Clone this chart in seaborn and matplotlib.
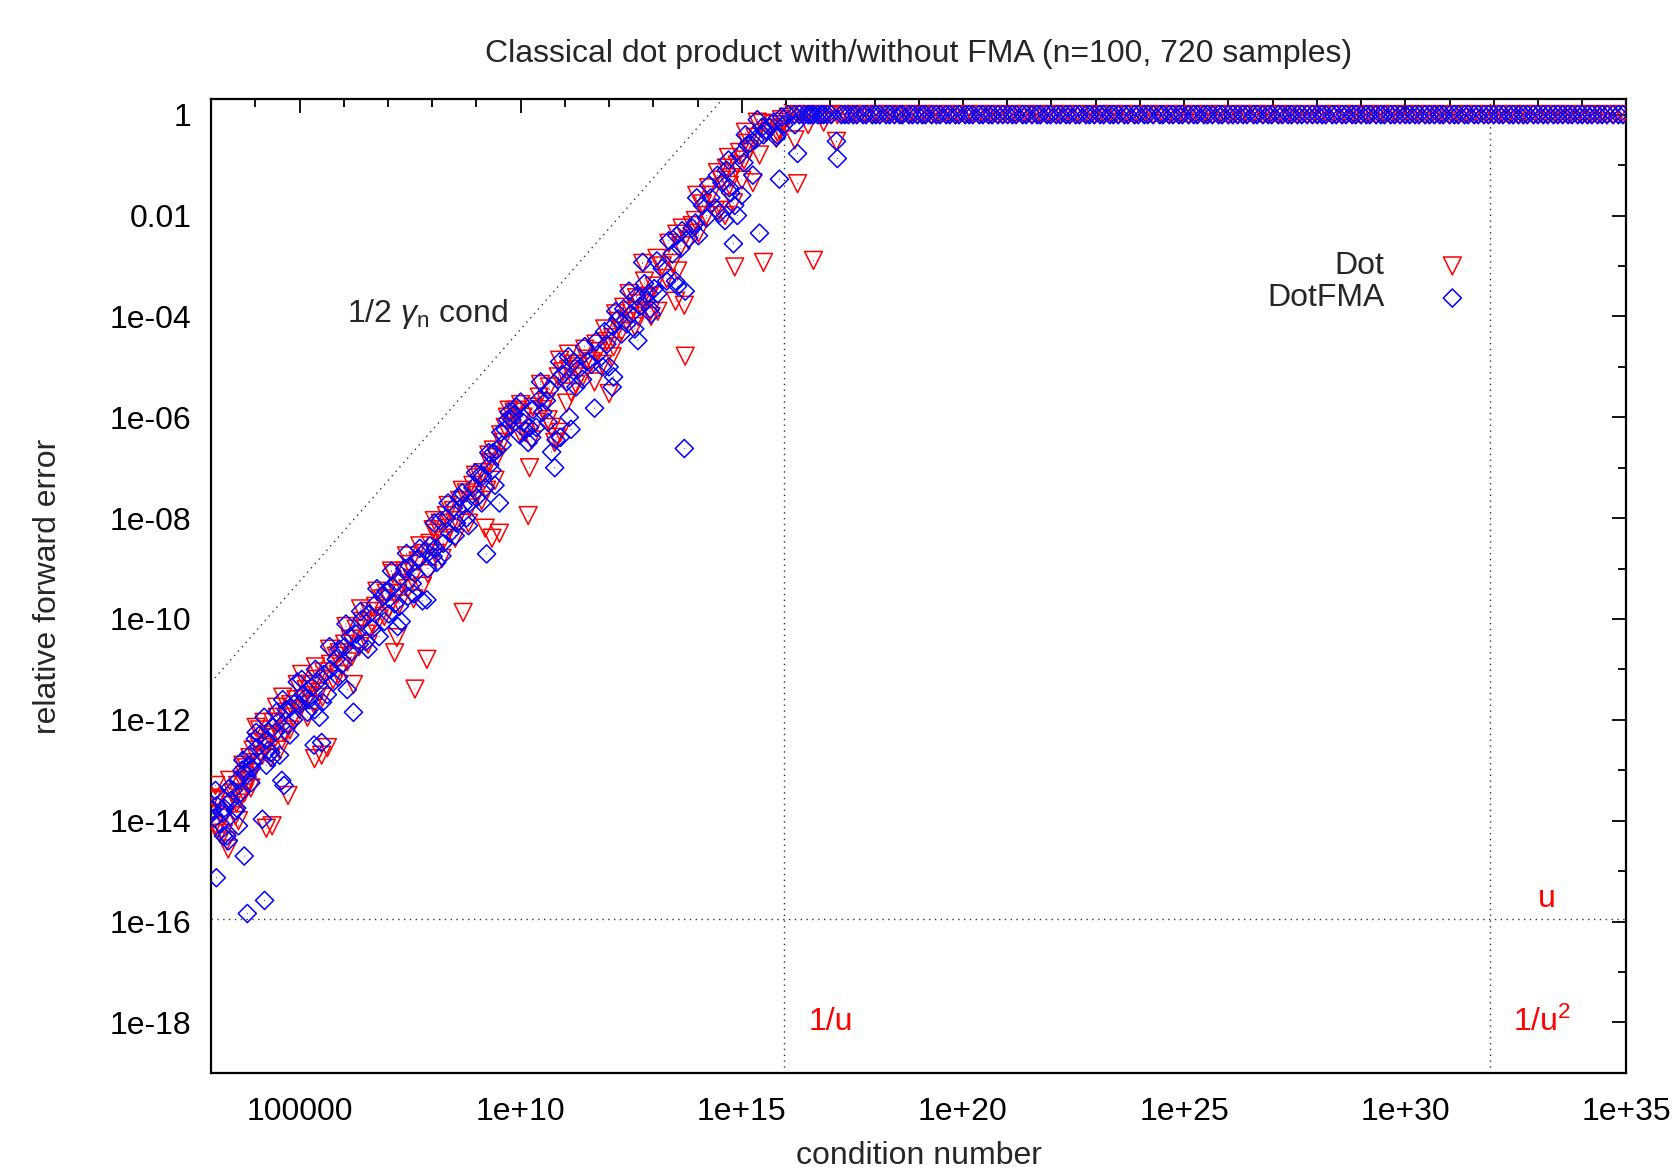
import numpy as np
import matplotlib
matplotlib.use('Agg')
import matplotlib.pyplot as plt
import seaborn as sns
from matplotlib.ticker import FixedLocator, NullFormatter

# --- data (exponents of ten) ---
# samples below saturation: condition number, error of Dot, error of DotFMA
cond_exp = [3.02, 3.04, 3.08, 3.12, 3.13, 3.20, 3.28, 3.30, 3.36, 3.39, 3.45, 3.50, 3.55, 3.60, 3.62,
            3.66, 3.70, 3.75, 3.76, 3.80, 3.82, 3.85, 3.88, 3.92, 3.95, 4.00, 4.05, 4.10, 4.16, 4.21,
            4.25, 4.26, 4.30, 4.38, 4.40, 4.45, 4.50, 4.55, 4.60, 4.65, 4.70, 4.74, 4.80, 4.86, 4.92,
            5.00, 5.08, 5.15, 5.22, 5.28, 5.33, 5.34, 5.40, 5.45, 5.50, 5.55, 5.63, 5.70, 5.76, 5.83,
            5.90, 5.96, 6.02, 6.08, 6.15, 6.22, 6.28, 6.35, 6.42, 6.50, 6.58, 6.65, 6.72, 6.80, 6.88,
            6.96, 7.02, 7.11, 7.15, 7.20, 7.22, 7.30, 7.38, 7.45, 7.49, 7.55, 7.61, 7.68, 7.78, 7.85,
            7.88, 7.95, 8.02, 8.07, 8.10, 8.18, 8.25, 8.32, 8.40, 8.48, 8.55, 8.62, 8.70, 8.77, 8.85,
            8.92, 9.00, 9.08, 9.14, 9.20, 9.23, 9.30, 9.35, 9.38, 9.46, 9.52, 9.58, 9.65, 9.74, 9.80,
            9.85, 9.91, 9.98, 10.05, 10.10, 10.17, 10.20, 10.28, 10.35, 10.42, 10.50, 10.58, 10.65, 10.70, 10.77,
            10.80, 10.88, 10.90, 10.95, 11.04, 11.10, 11.14, 11.20, 11.30, 11.40, 11.50, 11.60, 11.67, 11.75, 11.85,
            11.95, 12.00, 12.07, 12.08, 12.10, 12.20, 12.28, 12.33, 12.40, 12.50, 12.58, 12.62, 12.65, 12.70, 12.76,
            12.84, 12.90, 12.93, 12.95, 13.02, 13.10, 13.20, 13.30, 13.43, 13.50, 13.53, 13.55, 13.62, 13.70, 13.72,
            13.80, 13.88, 13.95, 14.02, 14.11, 14.20, 14.30, 14.40, 14.50, 14.55, 14.62, 14.65, 14.72, 14.75, 14.81,
            14.84, 14.90, 14.95, 15.00, 15.05, 15.13, 15.17, 15.25, 15.30, 15.40, 15.46, 15.49, 15.55, 15.63, 15.72,
            15.78, 15.80, 15.85, 15.90, 15.95, 16.05, 16.19, 16.20, 16.26, 16.50, 16.62, 16.85, 17.14, 17.16,
            3.10, 3.25, 3.42, 3.58, 3.72, 3.90, 4.02, 4.20, 4.35, 4.48, 4.62, 4.78, 4.95, 5.05, 5.18,
            5.36, 5.52, 5.68, 5.88, 6.05, 6.18, 6.38, 6.55, 6.75, 6.92, 7.08, 7.26, 7.42, 7.58, 7.72,
            7.90, 8.05, 8.22, 8.36, 8.52, 8.68, 8.82, 8.98, 9.12, 9.28, 9.42, 9.55, 9.70, 10.00, 10.25,
            10.45, 10.62, 10.85, 11.08, 11.25, 11.45, 11.70, 11.90, 12.15, 12.45, 12.80, 13.08, 13.35, 13.65, 13.98,
            14.25, 14.45, 14.70, 15.08, 15.35]
dot_exp = [-13.85, -13.55, -14.10, -13.60, -13.57, -14.25, -14.25, -13.90, -14.40, -14.56, -13.70, -13.45, -13.90, -13.30, -14.00,
           -13.55, -13.20, -13.45, -13.10, -12.95, -13.30, -13.20, -12.75, -13.05, -12.60, -12.85, -12.45, -12.20, -12.70, -12.55,
           -14.15, -12.51, -12.30, -14.10, -12.05, -12.35, -11.95, -12.60, -12.40, -12.25, -11.85, -13.50, -11.70, -11.95, -11.60,
           -11.80, -11.59, -11.40, -11.52, -11.30, -11.70, -12.77, -11.20, -11.45, -12.70, -11.05, -12.55, -10.90, -11.20, -10.74,
           -10.67, -10.95, -10.50, -10.85, -10.40, -11.30, -10.20, -10.55, -10.05, -10.30, -9.85, -10.10, -9.75, -10.00, -9.60,
           -9.49, -9.80, -9.10, -10.67, -10.37, -9.50, -9.30, -9.05, -9.40, -8.92, -9.20, -11.39, -8.85, -9.35, -8.70,
           -10.80, -8.50, -8.23, -8.70, -8.30, -8.10, -8.45, -7.95, -8.20, -7.85, -8.05, -7.65, -9.87, -7.50, -7.80,
           -7.35, -7.55, -7.20, -7.10, -8.20, -7.45, -6.90, -8.40, -6.65, -6.80, -8.30, -6.50, -6.20, -5.86, -6.10,
           -5.90, -5.86, -6.30, -6.00, -6.30, -7.95, -7.00, -5.80, -6.10, -5.60, -5.85, -5.70, -5.40, -6.20, -6.50,
           -6.40, -4.87, -6.30, -5.10, -5.72, -5.05, -5.50, -4.95, -5.00, -5.20, -4.85, -4.90, -5.30, -4.70, -4.95,
           -4.50, -5.53, -4.80, -4.42, -4.60, -4.10, -4.30, -3.82, -4.10, -3.90, -4.20, -3.63, -4.00, -3.75, -2.95,
           -3.63, -3.60, -3.90, -4.00, -3.40, -3.90, -3.00, -3.25, -2.95, -3.70, -2.37, -3.10, -2.60, -3.78, -4.79,
           -2.50, -2.20, -2.10, -2.35, -1.77, -2.00, -1.60, -1.90, -1.90, -1.30, -2.00, -1.06, -1.40, -1.25, -1.75,
           -3.02, -1.00, -0.75, -1.30, -0.90, -0.57, -0.70, -1.35, -0.45, -0.80, -0.17, -2.93, -0.35, -0.27, -0.20,
           -0.47, -0.35, -0.30, -0.10, -0.15, -0.05, 0.00, -0.50, -1.37, -0.20, -2.89, -0.15, -0.53, 0.00,
           -13.30, -13.95, -13.20, -13.65, -12.90, -13.35, -12.15, -12.05, -12.75, -11.75, -11.55, -12.20, -11.30, -11.10, -11.95,
           -10.95, -11.55, -10.60, -11.10, -10.15, -10.75, -9.80, -10.50, -9.45, -9.95, -9.05, -9.70, -8.75, -9.60, -8.55,
           -9.10, -8.05, -8.80, -7.75, -8.40, -7.45, -8.10, -7.15, -7.65, -6.75, -7.25, -6.35, -6.00, -5.75, -6.45,
           -5.35, -6.05, -5.20, -4.75, -5.35, -4.65, -4.55, -4.25, -3.95, -3.55, -3.30, -2.85, -2.55, -2.25, -1.60,
           -1.45, -1.15, -0.85, -0.35, -0.15]
fma_exp = [-13.80, -13.78, -13.95, -15.13, -13.70, -14.05, -14.30, -13.75, -14.30, -14.40, -13.60, -13.40, -13.80, -13.20, -14.10,
           -13.45, -13.00, -14.70, -13.05, -13.10, -15.84, -12.90, -12.70, -12.95, -12.85, -12.38, -12.55, -12.30, -13.97, -15.58,
           -12.90, -12.40, -12.60, -12.75, -12.15, -12.25, -12.05, -12.70, -13.20, -13.30, -11.80, -12.10, -11.75, -12.00, -11.65,
           -11.70, -11.50, -11.55, -11.60, -11.35, -12.50, -11.80, -11.25, -11.95, -12.45, -11.10, -11.50, -11.00, -11.25, -10.80,
           -10.60, -10.90, -10.55, -11.40, -10.35, -11.85, -10.30, -10.50, -10.00, -10.45, -9.90, -10.20, -9.70, -10.35, -9.55,
           -9.45, -9.90, -9.36, -9.70, -9.25, -10.15, -10.05, -9.00, -9.55, -8.95, -9.30, -9.10, -8.80, -9.64, -8.65,
           -9.62, -8.55, -8.76, -8.60, -8.88, -8.05, -8.50, -8.00, -8.30, -7.80, -8.10, -7.60, -7.75, -8.00, -7.70,
           -7.40, -7.60, -7.15, -7.17, -7.40, -8.71, -6.95, -7.05, -6.70, -6.65, -7.70, -6.55, -6.25, -5.90, -6.05,
           -5.95, -5.80, -6.35, -6.10, -6.25, -6.50, -6.20, -5.85, -6.20, -5.65, -5.90, -5.67, -5.45, -6.69, -7.00,
           -6.45, -4.90, -6.40, -5.15, -5.30, -6.00, -6.24, -4.90, -5.05, -5.25, -4.90, -4.95, -5.82, -4.75, -5.00,
           -4.55, -5.00, -5.40, -4.20, -5.20, -4.05, -4.35, -3.85, -4.15, -3.95, -4.25, -3.60, -4.48, -3.80, -2.93,
           -3.70, -3.55, -3.85, -3.95, -3.45, -3.55, -3.05, -3.30, -2.76, -3.30, -2.40, -3.40, -2.65, -6.62, -3.50,
           -2.45, -2.25, -2.15, -2.40, -1.80, -2.05, -1.65, -1.85, -1.95, -1.35, -2.10, -1.10, -1.45, -1.55, -2.56,
           -1.80, -2.00, -0.80, -1.60, -0.95, -0.60, -0.57, -1.20, -0.50, -2.35, -0.25, -0.40, -0.30, -0.25, -0.15,
           -0.45, -0.40, -1.28, -0.05, -0.20, 0.00, 0.00, -0.20, -0.77, 0.00, 0.00, 0.00, -0.53, -0.87,
           -13.40, -13.85, -13.35, -13.75, -12.80, -13.25, -12.25, -11.95, -12.65, -11.85, -11.60, -12.30, -11.25, -11.20, -11.85,
           -11.00, -11.65, -10.55, -11.15, -10.10, -10.65, -9.85, -10.60, -9.40, -10.05, -9.05, -9.75, -8.70, -9.50, -8.60,
           -9.00, -8.10, -8.75, -7.70, -8.35, -7.50, -8.15, -7.10, -7.70, -6.70, -7.35, -6.30, -6.05, -5.70, -6.40,
           -5.30, -6.10, -5.25, -4.80, -5.40, -4.60, -4.50, -4.30, -3.90, -3.50, -3.35, -2.90, -2.50, -2.30, -1.65,
           -1.40, -1.20, -0.90, -0.40, -0.10]

# samples past 1/u: both algorithms return a relative error of 1
sat_exp = [16.30, 16.42, 16.55, 16.61, 16.72, 16.80, 16.93, 17.02, 17.25, 17.33, 17.41, 17.52, 17.60, 17.74, 17.81,
           17.95, 18.03, 18.12, 18.26, 18.34, 18.45, 18.57, 18.63, 18.78, 18.86, 18.97, 19.08, 19.15, 19.29, 19.40,
           19.48, 19.62, 19.70, 19.83, 19.91, 20.05, 20.14, 20.22, 20.37, 20.45, 20.58, 20.66, 20.79, 20.90, 21.01,
           21.12, 21.20, 21.35, 21.43, 21.56, 21.68, 21.75, 21.90, 21.98, 22.11, 22.20, 22.33, 22.41, 22.55, 22.63,
           22.78, 22.86, 22.97, 23.10, 23.18, 23.32, 23.40, 23.51, 23.65, 23.73, 23.88, 23.96, 24.10, 24.18, 24.30,
           24.45, 24.52, 24.66, 24.75, 24.88, 24.96, 25.10, 25.22, 25.30, 25.45, 25.53, 25.64, 25.78, 25.86, 26.00,
           26.10, 26.21, 26.33, 26.42, 26.57, 26.65, 26.78, 26.90, 26.98, 27.13, 27.22, 27.35, 27.43, 27.56, 27.66,
           27.78, 27.90, 28.01, 28.12, 28.20, 28.35, 28.44, 28.57, 28.66, 28.80, 28.88, 29.00, 29.12, 29.20, 29.34,
           29.45, 29.53, 29.67, 29.76, 29.88, 30.00, 30.10, 30.22, 30.31, 30.45, 30.55, 30.66, 30.78, 30.86, 31.00,
           31.11, 31.20, 31.34, 31.42, 31.56, 31.65, 31.78, 31.88, 32.00, 32.12, 32.21, 32.35, 32.44, 32.56, 32.67,
           32.76, 32.90, 33.00, 33.12, 33.22, 33.35, 33.45, 33.56, 33.68, 33.77, 33.90, 34.00, 34.12, 34.22, 34.35,
           34.45, 34.56, 34.70, 34.82, 34.92]
sat_err = 1.0

x_ticks = [1e5, 1e10, 1e15, 1e20, 1e25, 1e30, 1e35]
x_labels = ['100000', '1e+10', '1e+15', '1e+20', '1e+25', '1e+30', '1e+35']
y_ticks = [1, 1e-2, 1e-4, 1e-6, 1e-8, 1e-10, 1e-12, 1e-14, 1e-16, 1e-18]
y_labels = ['1', '0.01', '1e-04', '1e-06', '1e-08', '1e-10', '1e-12', '1e-14', '1e-16', '1e-18']

n = 100
u = 2.0 ** -53

cond = np.concatenate([10.0 ** np.array(cond_exp), 10.0 ** np.array(sat_exp)])
err_dot = np.concatenate([10.0 ** np.array(dot_exp), np.full(len(sat_exp), sat_err)])
err_fma = np.concatenate([10.0 ** np.array(fma_exp), np.full(len(sat_exp), sat_err)])

# --- plotting ---
sns.set_style('white')
plt.rcParams['font.family'] = ['Liberation Sans', 'DejaVu Sans']
plt.rcParams['mathtext.fontset'] = 'custom'
plt.rcParams['mathtext.rm'] = 'Liberation Sans'
plt.rcParams['mathtext.it'] = 'Liberation Sans:italic'

FS = 23
fig, ax = plt.subplots(figsize=(16.75, 11.7), dpi=100)
fig.subplots_adjust(left=0.126, right=0.971, top=0.915, bottom=0.083)
ax.set_xscale('log')
ax.set_yscale('log')

# reference lines
gam = n * u / (1 - n * u)
xl = np.array([1e3, 1e17])
dots = dict(color='#333333', lw=1.0, ls=(0, (1, 3.2)), zorder=1)
ax.plot(xl, 0.5 * gam * xl, **dots)
ax.axvline(1 / u, **dots)
ax.axvline(1 / u ** 2, **dots)
ax.axhline(u, **dots)

tri = dict(marker='v', s=165, facecolor='none', edgecolor='#ff0000', linewidth=1.1)
dia = dict(marker='D', s=85, facecolor='none', edgecolor='#0000ff', linewidth=1.1)
sns.scatterplot(x=cond, y=err_dot, ax=ax, zorder=3, **tri)
sns.scatterplot(x=cond, y=err_dot, ax=ax, marker='.', s=2, color='#ff0000',
                edgecolor='none', zorder=3)
sns.scatterplot(x=cond, y=err_fma, ax=ax, zorder=4, **dia)
sns.scatterplot(x=cond, y=err_fma, ax=ax, marker='.', s=2, color='#0000ff',
                edgecolor='none', zorder=4)

ax.set_xlim(1e3, 1e35)
ax.set_ylim(1e-19, 2)

ax.xaxis.set_major_locator(FixedLocator(x_ticks))
ax.set_xticklabels(x_labels)
ax.xaxis.set_minor_locator(FixedLocator([10.0 ** k for k in range(3, 36)]))
ax.xaxis.set_minor_formatter(NullFormatter())
ax.yaxis.set_major_locator(FixedLocator(y_ticks))
ax.set_yticklabels(y_labels)
ax.yaxis.set_minor_locator(FixedLocator([10.0 ** k for k in range(-19, 1, 2)]))
ax.yaxis.set_minor_formatter(NullFormatter())
ax.tick_params(which='both', direction='in', top=True, right=True, width=1.3,
               labelsize=FS, colors='black')
ax.tick_params(which='major', length=10, pad=14)
ax.tick_params(which='minor', length=5.5)
ax.tick_params(axis='x', which='major', pad=17)
for sp in ax.spines.values():
    sp.set_linewidth(1.6)
    sp.set_color('black')

ax.set_title('Classical dot product with/without FMA (n=100, 720 samples)', fontsize=FS, pad=27)
ax.set_xlabel('condition number', fontsize=FS, va='center')
ax.xaxis.set_label_coords(0.5, -0.085)
ax.set_ylabel('relative forward error', fontsize=FS, labelpad=34)

ax.text(10 ** 9.7, 10 ** -3.95, r'1/2 $\gamma_{\mathrm{n}}$ cond', fontsize=FS, ha='right', va='center')
ax.text(10 ** 33.2, 10 ** -15.55, 'u', color='#ff0000', fontsize=FS, ha='center', va='center')
ax.text(10 ** 16.5, 10 ** -18.0, '1/u', color='#ff0000', fontsize=FS, ha='left', va='center')
ax.text(10 ** 33.1, 10 ** -18.0, r'1/u$^2$', color='#ff0000', fontsize=FS, ha='center', va='center')

# gnuplot style key: right-aligned labels, symbol on the right
ax.text(0.829, 0.829, 'Dot', transform=ax.transAxes, fontsize=FS, ha='right', va='center')
ax.text(0.829, 0.796, 'DotFMA', transform=ax.transAxes, fontsize=FS, ha='right', va='center')
ax.scatter([0.877], [0.829], transform=ax.transAxes, **tri)
ax.scatter([0.877], [0.796], transform=ax.transAxes, **dia)

fig.savefig('out.png', dpi=100)
